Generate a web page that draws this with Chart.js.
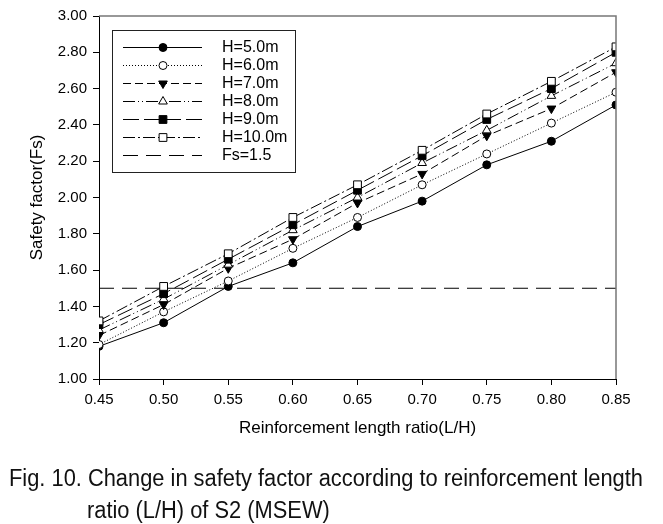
<!DOCTYPE html>
<html>
<head>
<meta charset="utf-8">
<script src="https://cdn.jsdelivr.net/npm/chart.js@4.4.1/dist/chart.umd.min.js"></script>
<style>
  html, body { margin: 0; padding: 0; background: #fff; }
  #wrap { position: relative; width: 663px; height: 524px; overflow: hidden; }
  #chart { position: absolute; left: 0; top: 0; }
  .cap { position: absolute; white-space: nowrap; font-family: 'Liberation Sans', Arial, sans-serif;
         font-size: 23px; color: #111; transform-origin: 0 50%; line-height: 26px; }
</style>
</head>
<body>
<div id="wrap">
  <canvas id="chart" width="663" height="524"></canvas>
  <div class="cap" id="cap1" style="left:9px; top:465px;">Fig. 10. Change in safety factor according to reinforcement length</div>
  <div class="cap" id="cap2" style="left:87px; top:497px;">ratio (L/H) of S2 (MSEW)</div>
</div>
<script>
// Değerler
const ratios = [0.45, 0.50, 0.55, 0.60, 0.65, 0.70, 0.75, 0.80, 0.85];
const h5  = [1.18, 1.31, 1.51, 1.64, 1.84, 1.98, 2.18, 2.31, 2.51];
const h6  = [1.19, 1.37, 1.54, 1.72, 1.89, 2.07, 2.24, 2.41, 2.58];
const h7  = [1.24, 1.41, 1.61, 1.77, 1.97, 2.13, 2.34, 2.49, 2.69];
const h8  = [1.27, 1.44, 1.63, 1.82, 2.00, 2.19, 2.37, 2.56, 2.74];
const h9  = [1.30, 1.47, 1.66, 1.85, 2.04, 2.23, 2.43, 2.60, 2.80];
const h10 = [1.32, 1.51, 1.69, 1.89, 2.07, 2.26, 2.46, 2.64, 2.83];
const fsLimit = 1.5;
const seriesLabels = ['H=5.0m', 'H=6.0m', 'H=7.0m', 'H=8.0m', 'H=9.0m', 'H=10.0m', 'Fs=1.5'];

const FONT = "'Liberation Sans', Arial, sans-serif";

function pts(arr) {
    return arr.map((v, i) => ({ x: ratios[i], y: v }));
}

function series(label, arr, dash, style, fill, radius, rotation, order) {
    return {
        label: label,
        data: pts(arr),
        borderColor: '#000',
        borderWidth: 1,
        borderDash: dash,
        pointStyle: style,
        pointRadius: radius,
        pointRotation: rotation,
        pointBackgroundColor: fill,
        pointBorderColor: '#000',
        pointBorderWidth: 1,
        tension: 0,
        order: order
    };
}

const datasets = [
    series(seriesLabels[0], h5,  [],                  'circle',   '#000', 4,   0,   6),
    series(seriesLabels[1], h6,  [1, 2],              'circle',   '#fff', 4,   0,   5),
    series(seriesLabels[2], h7,  [8, 4],              'triangle', '#000', 5,   180, 4),
    series(seriesLabels[3], h8,  [12, 3, 1, 3, 1, 3], 'triangle', '#fff', 5,   0,   3),
    series(seriesLabels[4], h9,  [16, 5],             'rect',     '#000', 5.5, 0,   2),
    series(seriesLabels[5], h10, [12, 3, 2, 3],       'rect',     '#fff', 5.5, 0,   1),
    {
        label: seriesLabels[6],
        data: [{ x: ratios[0], y: fsLimit }, { x: ratios[ratios.length - 1], y: fsLimit }],
        borderColor: '#000',
        borderWidth: 1,
        borderDash: [15, 8],
        pointRadius: 0,
        order: 7
    }
];

// Çerçeve ve lejant kutusu
const frameLegend = {
    id: 'frameLegend',
    afterDraw(chart) {
        const ctx = chart.ctx;
        const a = chart.chartArea;
        ctx.save();
        ctx.setLineDash([]);
        ctx.strokeStyle = '#777';
        ctx.lineWidth = 1.5;
        ctx.beginPath();
        ctx.moveTo(a.left, a.top);
        ctx.lineTo(a.right, a.top);
        ctx.lineTo(a.right, a.bottom);
        ctx.stroke();

        // lejant
        const bx = 112, by = 30, bw = 183, bh = 142;
        ctx.fillStyle = '#fff';
        ctx.fillRect(bx, by, bw, bh);
        ctx.strokeStyle = '#222';
        ctx.lineWidth = 1;
        ctx.strokeRect(bx + 0.5, by + 0.5, bw, bh);

        const rowY = [47, 65, 83, 101, 119, 137, 155];
        chart.data.datasets.forEach((ds, i) => {
            const y = rowY[i] + 0.5;
            ctx.strokeStyle = '#000';
            ctx.lineWidth = 1;
            ctx.setLineDash(ds.borderDash || []);
            ctx.beginPath();
            ctx.moveTo(123, y);
            ctx.lineTo(202, y);
            ctx.stroke();
            ctx.setLineDash([]);
            if (ds.pointRadius > 0) {
                ctx.fillStyle = ds.pointBackgroundColor;
                ctx.strokeStyle = '#000';
                Chart.helpers.drawPoint(ctx, {
                    pointStyle: ds.pointStyle,
                    radius: ds.pointRadius,
                    rotation: ds.pointRotation,
                    borderWidth: 1
                }, 163, y);
            }
            ctx.fillStyle = '#000';
            ctx.font = '16px ' + FONT;
            ctx.textBaseline = 'middle';
            ctx.textAlign = 'left';
            ctx.fillText(ds.label, 222, y);
        });
        ctx.restore();
    }
};

Chart.defaults.font.family = FONT;
Chart.defaults.color = '#000';

new Chart(document.getElementById('chart'), {
    type: 'line',
    data: { datasets: datasets },
    options: {
        responsive: false,
        animation: false,
        devicePixelRatio: 1,
        layout: { padding: { left: 0, right: 47, top: 16, bottom: 85 } },
        plugins: { legend: { display: false }, tooltip: { enabled: false } },
        scales: {
            x: {
                type: 'linear',
                min: 0.45,
                max: 0.85,
                afterFit: (s) => { s.height = 60; },
                ticks: {
                    stepSize: 0.05,
                    padding: 6,
                    font: { size: 15 },
                    callback: (v) => Number(v).toFixed(2)
                },
                grid: { drawOnChartArea: false, drawTicks: true, tickLength: 6, color: '#000' },
                border: { color: '#000', width: 1 },
                title: {
                    display: true,
                    text: 'Reinforcement length ratio(L/H)',
                    font: { size: 17 },
                    padding: { top: 0, bottom: 0 }
                }
            },
            y: {
                min: 1.0,
                max: 3.0,
                afterFit: (s) => { s.width = 99; },
                ticks: {
                    stepSize: 0.2,
                    padding: 6,
                    font: { size: 15 },
                    callback: (v) => Number(v).toFixed(2)
                },
                grid: { drawOnChartArea: false, drawTicks: true, tickLength: 6, color: '#000' },
                border: { color: '#000', width: 1 },
                title: {
                    display: true,
                    text: 'Safety factor(Fs)',
                    font: { size: 17 },
                    padding: { top: 27, bottom: 0 }
                }
            }
        }
    },
    plugins: [frameLegend]
});

// Alt yazıyı genişliğe sığdır
function fitCaption(id, targetWidth) {
    const el = document.getElementById(id);
    const w = el.getBoundingClientRect().width;
    if (w > 0) {
        el.style.transform = 'scaleX(' + (targetWidth / w) + ')';
    }
}
fitCaption('cap1', 634);
document.getElementById('cap2').style.transform = document.getElementById('cap1').style.transform;
</script>
</body>
</html>
